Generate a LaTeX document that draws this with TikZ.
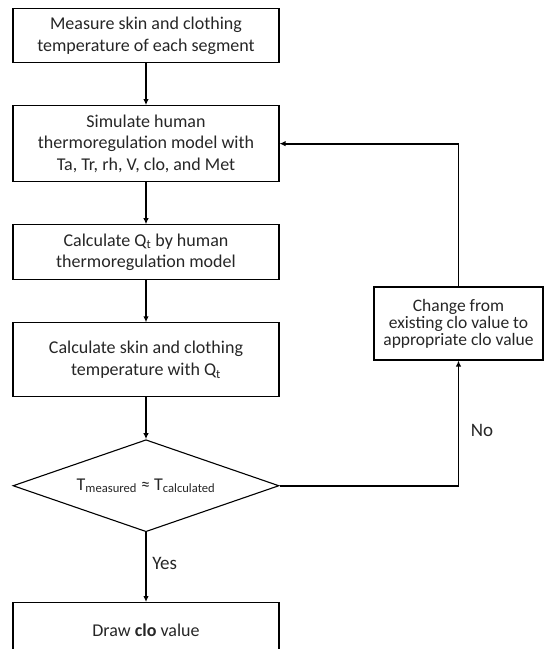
\documentclass[tikz,border=0pt]{standalone}
\usepackage{fontspec}
\setmainfont{Carlito}
\usetikzlibrary{shapes.geometric,arrows.meta}
\begin{document}
\begin{tikzpicture}[x=1pt,y=1pt]
  \tikzstyle{block}=[draw,line width=1.1pt,minimum width=266pt,align=center,inner sep=2pt,
    text=black!85,font=\fontsize{18}{21.5}\selectfont]
  \tikzstyle{decision}=[draw,diamond,aspect=2.9,line width=1.1pt,minimum width=266pt,
    minimum height=92pt,inner sep=0pt,text=black!85,font=\fontsize{18}{21.5}\selectfont]
  \tikzstyle{line}=[line width=1.9pt,-{Latex[length=6pt,width=5.5pt]}]
  \tikzstyle{answer}=[text=black!85,font=\fontsize{19}{22}\selectfont]
  \useasboundingbox (0,0) rectangle (544,-649);

  \matrix [row sep=42pt,matrix anchor=measure.north] at (146,-8)
  {
    \node [block,minimum height=54pt] (measure) {Measure skin and clothing\\temperature of each segment}; \\
    \node [block,minimum height=76pt] (simulate) {Simulate human\\thermoregulation model with\\Ta, Tr, rh, V, clo, and Met}; \\
    \node [block,minimum height=55pt] (heat) {Calculate Q\textsubscript{t} by human\\thermoregulation model}; \\
    \node [block,minimum height=74pt] (temp) {Calculate skin and clothing\\temperature with Q\textsubscript{t}}; \\
    \node [decision] (check) {T\textsubscript{measured} ≈ T\textsubscript{calculated}}; \\[28pt]
    \node [block,minimum height=56pt] (clo) {Draw \textbf{clo} value}; \\
  };

  \node [block,minimum width=169pt,minimum height=73pt,font=\fontsize{17.5}{17}\selectfont]
    (change) at (458.5,-323.5) {Change from\\existing clo value to\\appropriate clo value};

  % main chain
  \draw [line] (measure) -- (simulate);
  \draw [line] (simulate) -- (heat);
  \draw [line] (heat) -- (temp);
  \draw [line] (temp) -- (check);
  \draw [line] (check) -- node [answer,right=2pt,pos=0.45] {Yes} (clo);

  % loop back when the temperatures differ
  \draw [line] (check.east) -| node [answer,right=8pt,pos=0.72] {No} (change);
  \draw [line] (change) |- (simulate);
\end{tikzpicture}
\end{document}
